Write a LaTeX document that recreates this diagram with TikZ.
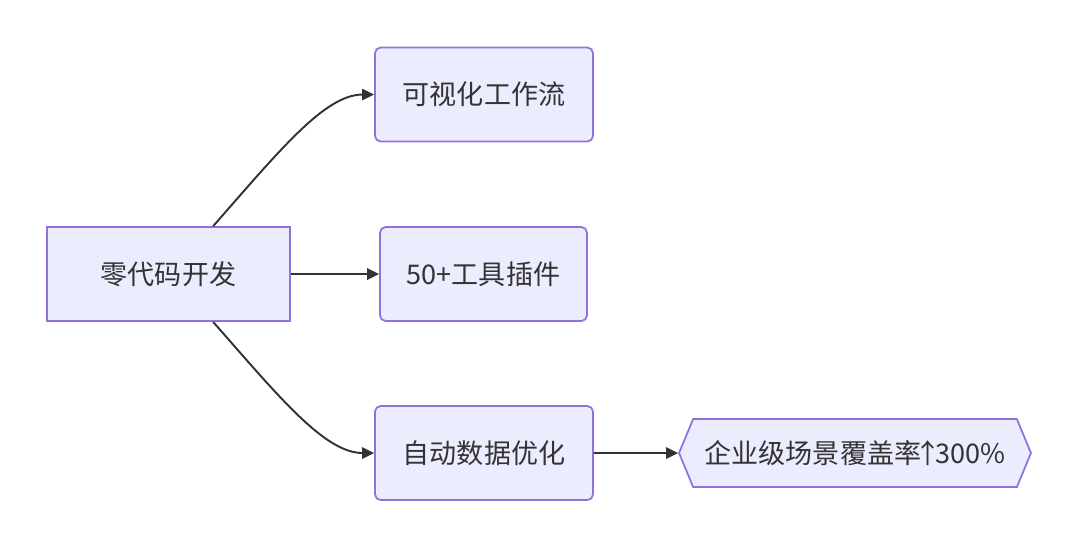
\documentclass[tikz,border=0pt]{standalone}
\usepackage{fontspec}
\setmainfont{Noto Sans CJK SC}
\usetikzlibrary{arrows.meta,shapes.symbols}
\definecolor{boxfill}{HTML}{ECECFF}
\definecolor{boxline}{HTML}{9370DB}
\definecolor{edgeline}{HTML}{333333}
\tikzset{
	box/.style={draw=boxline, fill=boxfill, line width=0.5pt, minimum height=0.94cm, text=edgeline, font=\fontsize{7.7}{9}\selectfont},
	roundbox/.style={box, rounded corners=1.6pt},
	hexbox/.style={box, shape=signal, signal to=west and east, signal pointer angle=135, minimum height=0.68cm},
	link/.style={draw=edgeline, line width=0.55pt, -{Triangle[length=3.4pt,width=3.2pt]}}
}
\newcommand{\uparr}{\kern-0.24em↑\kern-0.24em}
\begin{document}
\begin{tikzpicture}
	\useasboundingbox (0,0) rectangle (10.8,-5.47);%Rahmen

	\node[box, minimum width=2.43cm] (zero) at (1.685,-2.74) {零代码开发};
	\node[roundbox, minimum width=2.18cm] (flow) at (4.84,-0.945) {可视化工作流};
	\node[roundbox, minimum width=2.07cm] (plug) at (4.835,-2.74) {50+工具插件};
	\node[roundbox, minimum width=2.18cm] (auto) at (4.84,-4.53) {自动数据优化};
	\node[hexbox, inner xsep=3.3pt] (scene) at (8.55,-4.53) {企业级场景覆盖率\uparr300\%};

	\draw[link] (zero.47) .. controls (2.8,-1.5) and (3.25,-0.945) .. (flow.west);%oberer Pfeil
	\draw[link] (zero.east) -- (plug.west);%mittlerer Pfeil
	\draw[link] (zero.-47) .. controls (2.8,-3.98) and (3.25,-4.53) .. (auto.west);%unterer Pfeil
	\draw[link] (auto.east) -- (scene.west);
\end{tikzpicture}
\end{document}
